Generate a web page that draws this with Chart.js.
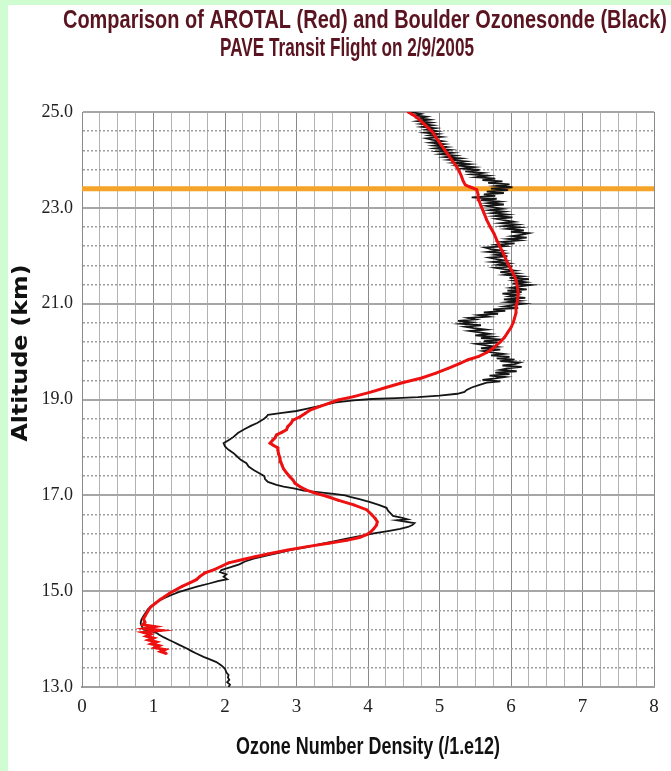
<!DOCTYPE html>
<html>
<head>
<meta charset="utf-8">
<script src="https://cdn.jsdelivr.net/npm/chart.js@4/dist/chart.umd.min.js"></script>
<style>
  html, body { margin: 0; padding: 0; background: #ffffff; }
  #wrap { width: 671px; height: 771px; }
</style>
</head>
<body>
<div id="wrap"><canvas id="c" width="671" height="771"></canvas></div>
<script>
// Text
const titleLines = [
  'Comparison of AROTAL (Red) and Boulder Ozonesonde (Black)',
  'PAVE Transit Flight on 2/9/2005'
];
const xTitle = 'Ozone Number Density (/1.e12)';
const yTitle = 'Altitude (km)';

// Axis ranges and tick labels
const xRange = [0, 8];
const yRange = [13, 25];
const xTickLabels = ['0', '1', '2', '3', '4', '5', '6', '7', '8'];
const yTickLabels = ['13.0', '15.0', '17.0', '19.0', '21.0', '23.0', '25.0'];

// Horizontal reference level (km)
const refLineAlt = 23.4;

// AROTAL lidar profile: [altitude km, ozone number density / 1e12]
const arotalProfile = [
  [13.70, 1.18], [13.74, 1.10], [13.78, 1.16], [13.82, 1.02], [13.86, 1.08],
  [13.90, 0.97], [13.94, 1.04], [13.98, 0.93], [14.02, 1.00], [14.06, 0.90],
  [14.10, 0.96], [14.14, 0.86], [14.18, 1.10], [14.22, 0.88], [14.26, 1.02],
  [14.30, 0.85], [14.35, 0.88], [14.42, 0.86], [14.50, 0.89], [14.58, 0.92],
  [14.67, 0.96], [14.75, 1.03], [14.82, 1.09], [14.88, 1.15], [14.95, 1.22],
  [15.02, 1.30], [15.10, 1.40], [15.17, 1.50], [15.24, 1.60], [15.31, 1.65],
  [15.38, 1.72], [15.45, 1.85], [15.52, 1.95], [15.59, 2.05], [15.66, 2.25],
  [15.72, 2.42], [15.79, 2.65], [15.86, 2.88], [15.93, 3.15], [16.00, 3.45],
  [16.06, 3.70], [16.12, 3.88], [16.18, 3.98], [16.24, 4.04], [16.30, 4.08],
  [16.38, 4.12], [16.45, 4.13], [16.52, 4.10], [16.60, 4.05], [16.70, 3.98],
  [16.80, 3.80], [16.90, 3.58], [16.98, 3.42], [17.05, 3.25], [17.11, 3.14],
  [17.18, 3.05], [17.25, 2.98], [17.32, 2.95], [17.40, 2.90], [17.47, 2.86],
  [17.55, 2.82], [17.62, 2.80], [17.70, 2.78], [17.78, 2.77], [17.86, 2.75],
  [17.94, 2.74], [17.99, 2.74], [18.04, 2.68], [18.09, 2.63], [18.14, 2.66],
  [18.20, 2.70], [18.26, 2.72], [18.32, 2.80], [18.37, 2.86], [18.44, 2.88],
  [18.50, 2.92], [18.57, 2.95], [18.64, 3.05], [18.71, 3.12], [18.78, 3.19],
  [18.85, 3.32], [18.92, 3.45], [18.99, 3.58], [19.06, 3.80], [19.16, 4.05],
  [19.25, 4.25], [19.35, 4.48], [19.45, 4.75], [19.55, 4.95], [19.65, 5.12],
  [19.75, 5.28], [19.83, 5.40], [19.90, 5.55], [19.98, 5.66], [20.05, 5.73],
  [20.10, 5.77], [20.20, 5.85], [20.30, 5.91], [20.39, 5.95], [20.50, 6.00],
  [20.60, 6.03], [20.70, 6.05], [20.81, 6.07], [20.93, 6.07], [21.05, 6.09],
  [21.22, 6.10], [21.35, 6.09], [21.50, 6.07], [21.63, 6.03], [21.77, 5.98],
  [21.92, 5.93], [22.06, 5.89], [22.20, 5.84], [22.33, 5.80], [22.47, 5.76],
  [22.60, 5.71], [22.75, 5.66], [22.90, 5.62], [23.04, 5.58], [23.17, 5.55],
  [23.28, 5.54], [23.38, 5.52], [23.44, 5.42], [23.48, 5.36], [23.56, 5.33],
  [23.65, 5.31], [23.75, 5.28], [23.86, 5.24], [24.00, 5.17], [24.15, 5.10],
  [24.30, 5.03], [24.45, 4.96], [24.57, 4.91], [24.70, 4.82], [24.84, 4.72],
  [24.92, 4.65], [25.00, 4.56]
];

// Boulder ozonesonde profile: [altitude km, ozone number density / 1e12]
const sondeProfile = [
  [13.00, 2.05], [13.05, 2.07], [13.10, 2.03], [13.15, 2.06], [13.20, 2.04],
  [13.25, 2.05], [13.30, 2.02], [13.38, 2.00], [13.45, 1.95], [13.52, 1.88],
  [13.58, 1.78], [13.63, 1.70], [13.70, 1.60], [13.76, 1.52], [13.81, 1.46],
  [13.88, 1.36], [13.94, 1.28], [13.98, 1.22], [14.04, 1.14], [14.09, 1.08],
  [14.13, 1.04], [14.17, 0.95], [14.20, 0.86], [14.26, 0.84], [14.33, 0.82],
  [14.40, 0.83], [14.48, 0.86], [14.55, 0.89], [14.62, 0.92], [14.70, 0.98],
  [14.78, 1.05], [14.85, 1.14], [14.92, 1.25], [14.98, 1.35], [15.05, 1.50],
  [15.10, 1.62], [15.16, 1.78], [15.21, 1.90], [15.25, 2.03], [15.30, 1.98],
  [15.35, 2.02], [15.40, 1.93], [15.44, 1.95], [15.50, 2.08], [15.56, 2.20],
  [15.62, 2.28], [15.68, 2.40], [15.74, 2.58], [15.80, 2.75], [15.86, 2.92],
  [15.92, 3.15], [15.98, 3.33], [16.04, 3.52], [16.10, 3.72], [16.16, 3.92],
  [16.21, 4.10], [16.26, 4.30], [16.30, 4.45], [16.34, 4.56], [16.38, 4.62],
  [16.42, 4.65], [16.45, 4.52], [16.48, 4.40], [16.50, 4.55], [16.53, 4.48],
  [16.57, 4.35], [16.62, 4.32], [16.68, 4.28], [16.74, 4.26], [16.80, 4.15],
  [16.86, 4.03], [16.92, 3.88], [16.97, 3.75], [17.00, 3.68], [17.03, 3.52],
  [17.06, 3.33], [17.10, 3.10], [17.14, 2.98], [17.18, 2.82], [17.22, 2.72],
  [17.28, 2.60], [17.34, 2.56], [17.40, 2.55], [17.46, 2.48], [17.53, 2.40],
  [17.60, 2.33], [17.67, 2.30], [17.74, 2.22], [17.81, 2.17], [17.88, 2.12],
  [17.95, 2.05], [18.02, 2.00], [18.09, 1.98], [18.15, 2.05], [18.22, 2.12],
  [18.30, 2.18], [18.38, 2.27], [18.45, 2.36], [18.51, 2.45], [18.58, 2.53],
  [18.64, 2.58], [18.68, 2.60], [18.72, 2.80], [18.76, 3.00], [18.80, 3.12],
  [18.85, 3.28], [18.90, 3.42], [18.94, 3.55], [18.98, 3.80], [19.01, 4.05],
  [19.03, 4.40], [19.05, 4.70], [19.08, 5.00], [19.12, 5.25], [19.16, 5.35],
  [19.20, 5.38], [19.25, 5.45], [19.30, 5.55], [19.35, 5.66], [19.38, 5.85],
  [19.41, 5.60], [19.44, 5.78], [19.47, 5.92], [19.50, 5.70], [19.53, 5.98],
  [19.56, 5.78], [19.59, 6.08], [19.62, 5.85], [19.65, 5.95], [19.68, 6.15],
  [19.71, 5.88], [19.74, 6.05], [19.77, 6.12], [19.80, 5.85], [19.83, 6.05],
  [19.86, 5.80], [19.89, 5.98], [19.92, 5.72], [19.95, 5.90], [19.98, 5.75],
  [20.01, 5.62], [20.04, 5.85], [20.07, 5.58], [20.10, 5.80], [20.13, 5.65],
  [20.16, 5.52], [20.19, 5.82], [20.22, 5.62], [20.25, 5.88], [20.28, 5.58],
  [20.31, 5.74], [20.34, 5.50], [20.37, 5.70], [20.40, 5.56], [20.43, 5.42],
  [20.46, 5.65], [20.49, 5.48], [20.52, 5.36], [20.55, 5.58], [20.58, 5.30],
  [20.61, 5.45], [20.64, 5.26], [20.67, 5.50], [20.70, 5.40], [20.73, 5.68],
  [20.76, 5.55], [20.79, 5.82], [20.82, 5.62], [20.85, 5.92], [20.88, 5.75],
  [20.91, 6.10], [20.94, 5.90], [20.97, 6.02], [21.00, 6.18], [21.03, 5.95],
  [21.06, 6.12], [21.09, 5.90], [21.12, 6.20], [21.15, 5.98], [21.18, 6.08],
  [21.21, 5.88], [21.24, 6.15], [21.27, 5.95], [21.30, 6.22], [21.33, 6.00],
  [21.36, 6.12], [21.39, 6.28], [21.42, 6.02], [21.45, 6.20], [21.48, 6.05],
  [21.51, 6.25], [21.54, 5.98], [21.57, 6.15], [21.60, 5.92], [21.63, 6.08],
  [21.66, 5.85], [21.69, 6.05], [21.72, 5.90], [21.75, 5.78], [21.78, 6.02],
  [21.81, 5.82], [21.84, 5.96], [21.87, 5.74], [21.90, 5.92], [21.93, 5.80],
  [21.96, 5.70], [21.99, 5.95], [22.02, 5.78], [22.05, 5.90], [22.08, 5.68],
  [22.11, 5.86], [22.14, 5.72], [22.17, 5.64], [22.20, 5.92], [22.23, 5.80],
  [22.26, 6.05], [22.29, 5.88], [22.32, 6.12], [22.35, 5.96], [22.38, 6.22],
  [22.41, 6.02], [22.44, 6.16], [22.47, 6.25], [22.50, 6.00], [22.53, 6.18],
  [22.56, 5.95], [22.59, 6.12], [22.62, 5.90], [22.65, 6.08], [22.68, 5.86],
  [22.71, 6.04], [22.74, 5.92], [22.77, 5.80], [22.80, 6.02], [22.83, 5.78],
  [22.86, 5.95], [22.89, 5.74], [22.92, 5.90], [22.95, 5.70], [22.98, 5.88],
  [23.01, 5.76], [23.04, 5.66], [23.07, 5.90], [23.10, 5.68], [23.13, 5.84],
  [23.16, 5.58], [23.19, 5.80], [23.22, 5.45], [23.25, 5.78], [23.28, 5.62],
  [23.31, 5.90], [23.34, 5.66], [23.37, 5.96], [23.40, 5.72], [23.43, 6.02],
  [23.46, 5.80], [23.49, 5.98], [23.52, 5.68], [23.55, 5.88], [23.58, 5.60],
  [23.61, 5.78], [23.64, 5.52], [23.67, 5.68], [23.70, 5.45], [23.73, 5.60],
  [23.76, 5.36], [23.79, 5.56], [23.82, 5.32], [23.85, 5.48], [23.88, 5.26],
  [23.91, 5.42], [23.94, 5.20], [23.97, 5.36], [24.00, 5.14], [24.03, 5.30],
  [24.06, 5.08], [24.09, 5.22], [24.12, 5.02], [24.15, 5.18], [24.18, 4.98],
  [24.21, 5.14], [24.24, 4.94], [24.27, 5.10], [24.30, 4.92], [24.33, 5.06],
  [24.36, 4.88], [24.39, 5.04], [24.42, 4.90], [24.45, 4.82], [24.48, 5.02],
  [24.51, 4.86], [24.54, 4.98], [24.57, 4.80], [24.60, 4.96], [24.63, 4.82],
  [24.66, 4.94], [24.69, 4.76], [24.72, 4.90], [24.75, 4.74], [24.78, 4.88],
  [24.81, 4.70], [24.84, 4.86], [24.87, 4.72], [24.90, 4.82], [24.93, 4.66],
  [24.96, 4.74], [25.00, 4.60]
];

const toPoints = rows => rows.map(([alt, o3]) => ({ x: o3, y: alt }));

const isMajorY = v => Math.abs((v - yRange[0]) / 2 - Math.round((v - yRange[0]) / 2)) < 1e-6;
const isIntX = v => Math.abs(v - Math.round(v)) < 1e-6;

// Draws a text string stretched or squeezed horizontally to a given width.
function drawFitted(ctx, text, cx, cy, width, font, color, angle, baseline) {
  ctx.save();
  ctx.font = font;
  ctx.fillStyle = color;
  ctx.textAlign = 'center';
  ctx.textBaseline = baseline || 'alphabetic';
  const natural = ctx.measureText(text).width;
  ctx.translate(cx, cy);
  if (angle) ctx.rotate(angle);
  ctx.scale(width / natural, 1);
  ctx.fillText(text, 0, 0);
  ctx.restore();
}

const framePlugin = {
  id: 'frame',
  beforeDraw(chart) {
    const ctx = chart.ctx;
    ctx.save();
    ctx.fillStyle = '#ffffff';
    ctx.fillRect(0, 0, chart.width, chart.height);
    ctx.fillStyle = '#d0fcd2';
    ctx.fillRect(0, 0, 8, chart.height);
    ctx.fillRect(0, 0, chart.width, 5);
    ctx.restore();
  },
  afterDraw(chart) {
    const ctx = chart.ctx;
    const titleFont = 'bold 26px "Liberation Sans", Arial, sans-serif';
    drawFitted(ctx, titleLines[0], 365, 28, 604, titleFont, '#5a1420');
    drawFitted(ctx, titleLines[1], 347, 56, 254, titleFont, '#5a1420');
    drawFitted(ctx, xTitle, 368, 754, 264, 'bold 24px "Liberation Sans", Arial, sans-serif', '#111111');
    drawFitted(ctx, yTitle, 21, 353, 177, 'bold 22px "DejaVu Sans", Verdana, sans-serif', '#111111', -Math.PI / 2, 'middle');
  }
};

new Chart(document.getElementById('c'), {
  type: 'scatter',
  data: {
    datasets: [
      {
        label: 'AROTAL',
        data: toPoints(arotalProfile),
        showLine: true,
        borderColor: '#ee1111',
        backgroundColor: '#ee1111',
        borderWidth: 3,
        pointRadius: 1.3,
        pointBorderWidth: 0,
        tension: 0,
        order: 0
      },
      {
        label: 'Ozonesonde',
        data: toPoints(sondeProfile),
        showLine: true,
        borderColor: '#151515',
        borderWidth: 1.8,
        pointRadius: 0,
        tension: 0,
        order: 1
      },
      {
        label: 'Reference level',
        data: [{ x: xRange[0], y: refLineAlt }, { x: xRange[1], y: refLineAlt }],
        showLine: true,
        borderColor: '#f4a428',
        borderWidth: 5,
        pointRadius: 0,
        order: 2
      }
    ]
  },
  options: {
    responsive: false,
    animation: false,
    devicePixelRatio: 1,
    layout: { padding: { left: 7, right: 17, top: 112, bottom: 14 } },
    plugins: {
      legend: { display: false },
      tooltip: { enabled: false },
      title: { display: false }
    },
    scales: {
      x: {
        type: 'linear',
        min: xRange[0],
        max: xRange[1],
        afterFit: s => { s.height = 70; },
        afterBuildTicks: s => {
          const t = [];
          for (let i = 0; i <= 32; i++) t.push({ value: xRange[0] + i * 0.25 });
          s.ticks = t;
        },
        ticks: {
          autoSkip: false,
          maxRotation: 0,
          padding: 9,
          color: '#222222',
          font: { family: '"Liberation Serif", "Times New Roman", serif', size: 19 },
          callback: v => isIntX(v) ? xTickLabels[Math.round(v)] : ''
        },
        grid: {
          drawTicks: false,
          color: c => (c.tick && isIntX(c.tick.value)) ? '#8a8a8a' : '#b2b2b2',
          lineWidth: 1
        },
        border: { display: true, color: '#a0a0a0', width: 2 }
      },
      y: {
        type: 'linear',
        min: yRange[0],
        max: yRange[1],
        afterFit: s => { s.width = 75; },
        afterBuildTicks: s => {
          const t = [];
          for (let i = 0; i <= 30; i++) t.push({ value: Math.round((yRange[0] + i * 0.4) * 10) / 10 });
          s.ticks = t;
        },
        ticks: {
          autoSkip: false,
          padding: 9,
          color: '#222222',
          font: { family: '"Liberation Serif", "Times New Roman", serif', size: 18 },
          callback: v => isMajorY(v) ? yTickLabels[Math.round((v - yRange[0]) / 2)] : ''
        },
        grid: {
          drawTicks: false,
          color: c => (c.tick && isMajorY(c.tick.value)) ? '#a6a6a6' : '#9c9c9c',
          lineWidth: c => (c.tick && isMajorY(c.tick.value)) ? 2 : 1.5
        },
        border: {
          display: true,
          color: '#8a8a8a',
          width: 1,
          dash: c => (c.tick && !isMajorY(c.tick.value)) ? [2, 2] : []
        }
      }
    }
  },
  plugins: [framePlugin]
});
</script>
</body>
</html>
